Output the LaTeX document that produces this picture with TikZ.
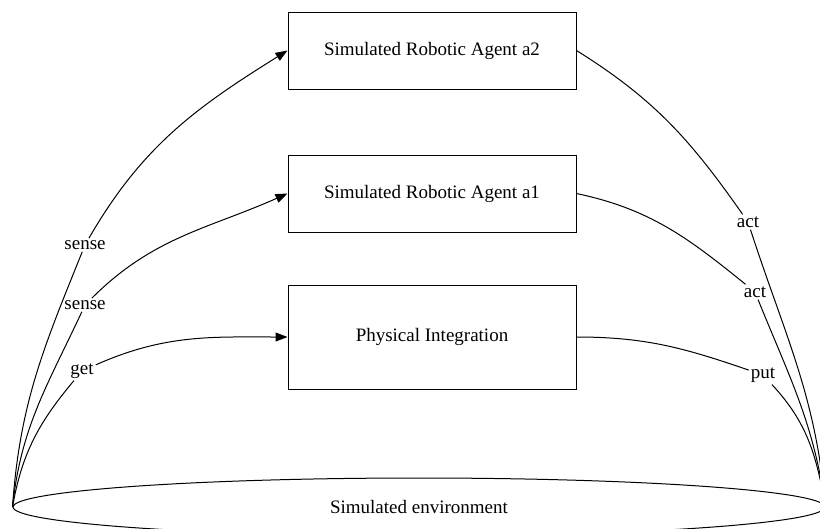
\documentclass[tikz,border=0pt]{standalone}
\usepackage{fontspec}
\setmainfont{Liberation Serif}
\usetikzlibrary{shapes.geometric,arrows.meta}
\begin{document}
\begin{tikzpicture}[x=1pt,y=1pt, font=\fontsize{19}{23}\selectfont,
  box/.style={draw, line width=1pt, minimum width=288pt, minimum height=77pt, inner sep=0pt},
  lab/.style={inner sep=2pt},
  conn/.style={line width=1pt},
  arr/.style={conn, -{Triangle[length=12pt,width=9pt]}}]
\useasboundingbox (0,0) rectangle (820,-528);
\clip (0,0) rectangle (820,-528);
\node[box] (a2) at (432,-50.5) {Simulated Robotic Agent a2};
\node[box] (a1) at (432,-193.5) {Simulated Robotic Agent a1};
\node[box, minimum height=104pt] (pi) at (432,-337) {Physical Integration};
\node[ellipse, draw, line width=1pt, minimum width=812pt, minimum height=58pt, inner sep=0pt] (env) at (419,-507) {Simulated environment};
\node[lab] (l1) at (85,-245) {sense};
\node[lab] (l2) at (85,-305) {sense};
\node[lab] (l3) at (82,-371) {get};
\node[lab] (r1) at (748,-222) {act};
\node[lab] (r2) at (755,-292) {act};
\node[lab] (r3) at (763,-375) {put};
\draw[arr] (env.west) to[out=86,in=-112] (l1) to[out=60,in=212] (a2.west);
\draw[arr] (env.west) to[out=84,in=-115] (l2) to[out=45,in=204] (a1.west);
\draw[arr] (env.west) to[out=80,in=-130] (l3) to[out=24,in=180] (pi.west);
\draw[conn] (a2.east) to[out=-32,in=125] (r1) to[out=-72,in=95] (env.east);
\draw[conn] (a1.east) to[out=-12,in=141] (r2) to[out=-68,in=98] (env.east);
\draw[conn] (pi.east) to[out=0,in=161] (r3) to[out=-47,in=100] (env.east);
\end{tikzpicture}
\end{document}
